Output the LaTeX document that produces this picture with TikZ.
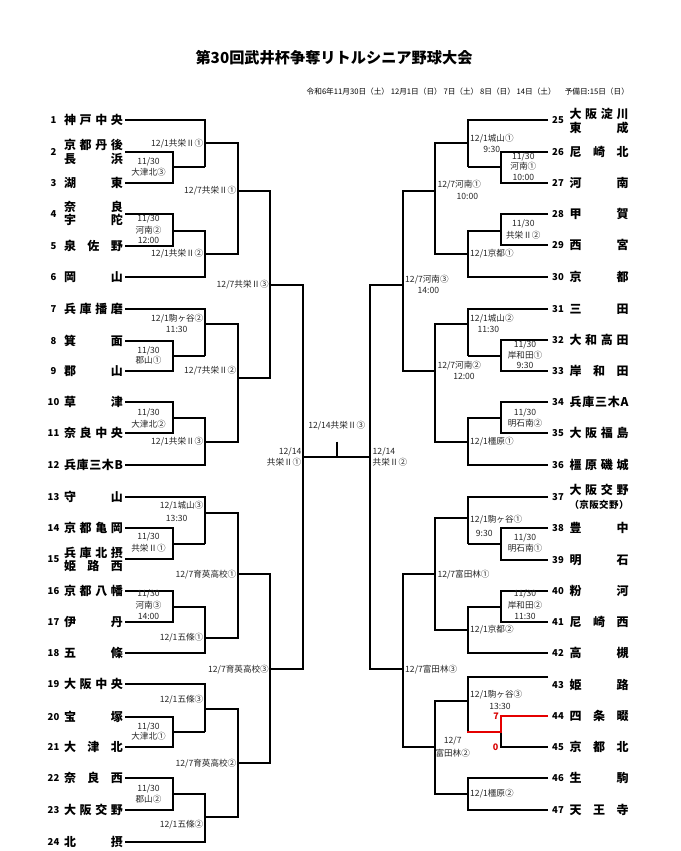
\documentclass[tikz,border=0pt]{standalone}
\usepackage{fontspec}
\setmainfont{Noto Sans CJK JP}
\begin{document}
\begin{tikzpicture}[x=1pt,y=-1pt,
  br/.style={line width=1.7pt,line join=miter,black},
  win/.style={line width=1.9pt,line join=miter,red!90!black},
  tn/.style={inner sep=0pt,font=\fontsize{12}{13.4}\selectfont\bfseries,align=center},
  nm/.style={inner sep=0pt,font=\fontsize{9.5}{10}\selectfont\bfseries},
  lb/.style={inner sep=0pt,font=\fontsize{8.6}{9.6}\selectfont,text=black!85},
  sc/.style={inner sep=0pt,font=\fontsize{9}{10}\selectfont\bfseries,text=red!85!black}]
\fill[white] (0,0) rectangle (680,851);
\useasboundingbox (0,0) rectangle (680,851);
\newcommand\W[1]{\makebox[59pt]{#1}}
% title
\node[inner sep=0pt,font=\fontsize{15.2}{16}\selectfont\bfseries] (title) at (334,57.3) {第30回武井杯争奪リトルシニア野球大会};
\node[inner sep=0pt,font=\fontsize{7.65}{8}\selectfont,anchor=west] (sub) at (306.5,91.7) {令和6年11月30日（土） 12月1日（日） 7日（土） 8日（日） 14日（土）\hspace{9pt}予備日:15日（日）};
% ---------- left teams ----------
\foreach \n/\y in {1/120,2/151.7,3/183.3,4/214.3,5/245.7,6/276.7,7/309,8/340.7,9/371,10/402.3,11/432.7,12/465,13/497,14/528.3,15/559,16/591,17/621.7,18/653.3,19/684.3,20/716.7,21/747.3,22/778.3,23/810,24/841.7}
  \node[nm] (n\n) at (53.5,\y) {\n};
\node[tn] (t1) at (93.5,120) {\W{神\hfill 戸\hfill 中\hfill 央}};
\node[tn] (t2) at (93.5,152) {\W{京\hfill 都\hfill 丹\hfill 後}\\\W{長\hfill 浜}};
\node[tn] (t3) at (93.5,183.3) {\W{湖\hfill 東}};
\node[tn] (t4) at (93.5,213.3) {\W{奈\hfill 良}\\\W{宇\hfill 陀}};
\node[tn] (t5) at (93.5,245.7) {\W{泉\hfill 佐\hfill 野}};
\node[tn] (t6) at (93.5,276.7) {\W{岡\hfill 山}};
\node[tn] (t7) at (93.5,309) {\W{兵\hfill 庫\hfill 播\hfill 磨}};
\node[tn] (t8) at (93.5,340.7) {\W{箕\hfill 面}};
\node[tn] (t9) at (93.5,371) {\W{郡\hfill 山}};
\node[tn] (t10) at (93.5,402.3) {\W{草\hfill 津}};
\node[tn] (t11) at (93.5,432.7) {\W{奈\hfill 良\hfill 中\hfill 央}};
\node[tn] (t12) at (93.5,465) {\W{兵\hfill 庫\hfill 三\hfill 木\hfill B}};
\node[tn] (t13) at (93.5,497) {\W{守\hfill 山}};
\node[tn] (t14) at (93.5,528.3) {\W{京\hfill 都\hfill 亀\hfill 岡}};
\node[tn] (t15) at (93.5,559.5) {\W{兵\hfill 庫\hfill 北\hfill 摂}\\\W{姫\hfill 路\hfill 西}};
\node[tn] (t16) at (93.5,591) {\W{京\hfill 都\hfill 八\hfill 幡}};
\node[tn] (t17) at (93.5,621.7) {\W{伊\hfill 丹}};
\node[tn] (t18) at (93.5,653.3) {\W{五\hfill 條}};
\node[tn] (t19) at (93.5,684.3) {\W{大\hfill 阪\hfill 中\hfill 央}};
\node[tn] (t20) at (93.5,716.7) {\W{宝\hfill 塚}};
\node[tn] (t21) at (93.5,747.3) {\W{大\hfill 津\hfill 北}};
\node[tn] (t22) at (93.5,778.3) {\W{奈\hfill 良\hfill 西}};
\node[tn] (t23) at (93.5,810) {\W{大\hfill 阪\hfill 交\hfill 野}};
\node[tn] (t24) at (93.5,841.7) {\W{北\hfill 摂}};
% ---------- right teams ----------
\foreach \n/\y in {25/120,26/151.7,27/183.3,28/214.3,29/245,30/276.7,31/309,32/340,33/371,34/402.3,35/433.3,36/465,37/496.7,38/528.3,39/560,40/591,41/621.7,42/653.3,43/685,44/715.7,45/747.3,46/778.3,47/810}
  \node[nm] (n\n) at (558,\y) {\n};
\node[tn] (t25) at (599,121) {\W{大\hfill 阪\hfill 淀\hfill 川}\\\W{東\hfill 成}};
\node[tn] (t26) at (599,151.7) {\W{尼\hfill 崎\hfill 北}};
\node[tn] (t27) at (599,183.3) {\W{河\hfill 南}};
\node[tn] (t28) at (599,214.3) {\W{甲\hfill 賀}};
\node[tn] (t29) at (599,245) {\W{西\hfill 宮}};
\node[tn] (t30) at (599,276.7) {\W{京\hfill 都}};
\node[tn] (t31) at (599,309) {\W{三\hfill 田}};
\node[tn] (t32) at (599,340) {\W{大\hfill 和\hfill 高\hfill 田}};
\node[tn] (t33) at (599,371) {\W{岸\hfill 和\hfill 田}};
\node[tn] (t34) at (599,402.3) {\W{兵\hfill 庫\hfill 三\hfill 木\hfill A}};
\node[tn] (t35) at (599,433.3) {\W{大\hfill 阪\hfill 福\hfill 島}};
\node[tn] (t36) at (599,465) {\W{橿\hfill 原\hfill 磯\hfill 城}};
\node[tn] (t37) at (599,497) {\W{大\hfill 阪\hfill 交\hfill 野}\\{\fontsize{9.5}{10}\selectfont\W{（\hfill 京\hfill 阪\hfill 交\hfill 野\hfill ）}}};
\node[tn] (t38) at (599,528.3) {\W{豊\hfill 中}};
\node[tn] (t39) at (599,560) {\W{明\hfill 石}};
\node[tn] (t40) at (599,591) {\W{粉\hfill 河}};
\node[tn] (t41) at (599,621.7) {\W{尼\hfill 崎\hfill 西}};
\node[tn] (t42) at (599,653.3) {\W{高\hfill 槻}};
\node[tn] (t43) at (599,685) {\W{姫\hfill 路}};
\node[tn] (t44) at (599,715.7) {\W{四\hfill 条\hfill 畷}};
\node[tn] (t45) at (599,747.3) {\W{京\hfill 都\hfill 北}};
\node[tn] (t46) at (599,778.3) {\W{生\hfill 駒}};
\node[tn] (t47) at (599,810) {\W{天\hfill 王\hfill 寺}};
% ---------- left bracket ----------
\draw[br] (125,120) -| (205,167.3);
\draw[br] (125,151.7) -| (173,183.3) -- (125,183.3);
\draw[br] (173,167.3) -- (205,167.3);
\draw[br] (205,143.3) -| (238,254) -- (205,254);
\draw[br] (125,214.3) -| (173,245.7) -- (125,245.7);
\draw[br] (173,230.7) -| (205,276.7) -- (125,276.7);
\draw[br] (238,190.7) -| (270,378.3) -- (238,378.3);
\draw[br] (125,309) -| (205,355.7);
\draw[br] (125,340.7) -| (173,371) -- (125,371);
\draw[br] (173,355.7) -- (205,355.7);
\draw[br] (205,324) -| (238,441.7) -- (205,441.7);
\draw[br] (125,402.3) -| (173,432.7) -- (125,432.7);
\draw[br] (173,418.3) -| (205,465) -- (125,465);
\draw[br] (270,285) -| (302.7,669.3) -- (270,669.3);
\draw[br] (125,497) -| (205,544.3);
\draw[br] (125,528.3) -| (173,559) -- (125,559);
\draw[br] (173,544.3) -- (205,544.3);
\draw[br] (205,513.3) -| (238,638.3) -- (205,638.3);
\draw[br] (125,591) -| (173,621.7) -- (125,621.7);
\draw[br] (173,606.7) -| (205,653.3) -- (125,653.3);
\draw[br] (238,574.3) -| (270,762.7) -- (238,762.7);
\draw[br] (125,684.3) -| (205,731.7);
\draw[br] (125,716.7) -| (173,747.3) -- (125,747.3);
\draw[br] (173,731.7) -- (205,731.7);
\draw[br] (205,709) -| (238,817.3) -- (205,817.3);
\draw[br] (125,778.3) -| (173,810) -- (125,810);
\draw[br] (173,794) -| (205,841.7) -- (125,841.7);
% ---------- centre ----------
\draw[br] (302.7,457.3) -- (370,457.3);
\draw[br] (336.7,441.7) -- (336.7,457.3);
% ---------- right bracket ----------
\draw[br] (548,120) -| (468,167.3);
\draw[br] (548,151.7) -| (500.7,183.3) -- (548,183.3);
\draw[br] (500.7,167.3) -- (468,167.3);
\draw[br] (468,143.3) -| (435,254) -- (468,254);
\draw[br] (548,214.3) -| (500.7,245) -- (548,245);
\draw[br] (500.7,230.7) -| (468,276.7) -- (548,276.7);
\draw[br] (435,190.7) -| (402.7,371) -- (435,371);
\draw[br] (548,309) -| (468,355.7);
\draw[br] (548,340) -| (500.7,371) -- (548,371);
\draw[br] (500.7,355.7) -- (468,355.7);
\draw[br] (468,324) -| (435,441.7) -- (468,441.7);
\draw[br] (548,402.3) -| (500.7,433.3) -- (548,433.3);
\draw[br] (500.7,418.3) -| (468,465) -- (548,465);
\draw[br] (402.7,285) -| (370,669.3) -- (402.7,669.3);
\draw[br] (548,496.7) -| (468,544.3);
\draw[br] (548,528.3) -| (500.7,560) -- (548,560);
\draw[br] (500.7,544.3) -- (468,544.3);
\draw[br] (468,518.3) -| (435,630) -- (468,630);
\draw[br] (548,591) -| (500.7,621.7) -- (548,621.7);
\draw[br] (500.7,606.7) -| (468,653.3) -- (548,653.3);
\draw[br] (435,574.3) -| (402.7,747.3) -- (435,747.3);
\draw[br] (548,676.7) -| (468,731.7);
\draw[br] (500.7,731.7) |- (548,747.3);
\draw[br] (468,700.7) -| (435,794) -- (468,794);
\draw[br] (548,778.3) -| (468,810) -- (548,810);
\draw[win] (548,715.7) -| (500.7,731.7) -- (467.2,731.7);
\node[sc] (s44) at (496,716) {7};
\node[sc] (s45) at (495.5,747.3) {0};
% ---------- left labels ----------
\node[lb,anchor=east] (a1) at (203.5,144) {12/1共栄Ⅱ①};
\node[lb] (a2) at (148.5,161.7) {11/30};
\node[lb] (a3) at (148.5,172.7) {大津北③};
\node[lb,anchor=east] (a4) at (236.5,190.7) {12/7共栄Ⅱ①};
\node[lb] (a5) at (148.5,219) {11/30};
\node[lb] (a6) at (148.5,230) {河南②};
\node[lb] (a7) at (148.5,240.7) {12:00};
\node[lb,anchor=east] (a8) at (203.5,254) {12/1共栄Ⅱ②};
\node[lb,anchor=east] (a9) at (269,285) {12/7共栄Ⅱ③};
\node[lb,anchor=east] (a10) at (203.5,319) {12/1駒ヶ谷②};
\node[lb] (a11) at (176.7,329.3) {11:30};
\node[lb] (a12) at (148.5,350.7) {11/30};
\node[lb] (a13) at (148.5,360.5) {郡山①};
\node[lb,anchor=east] (a14) at (236.5,371) {12/7共栄Ⅱ②};
\node[lb] (a15) at (148.5,413.3) {11/30};
\node[lb] (a16) at (148.5,424) {大津北②};
\node[lb,anchor=east] (a17) at (203.5,441.7) {12/1共栄Ⅱ③};
\node[lb,anchor=east] (a18) at (203.5,506) {12/1城山③};
\node[lb] (a19) at (176.7,518.3) {13:30};
\node[lb] (a20) at (148.5,537.3) {11/30};
\node[lb] (a21) at (148.5,548.3) {共栄Ⅱ①};
\node[lb,anchor=east] (a22) at (236.5,575) {12/7育英高校①};
\node[lb] (a23) at (148.5,594) {11/30};
\node[lb] (a24) at (148.5,605) {河南③};
\node[lb] (a25) at (148.5,616) {14:00};
\node[lb,anchor=east] (a26) at (203.5,637.7) {12/1五條①};
\node[lb,anchor=east] (a27) at (269,669.3) {12/7育英高校③};
\node[lb,anchor=east] (a28) at (203.5,700) {12/1五條③};
\node[lb] (a29) at (148.5,726.7) {11/30};
\node[lb] (a30) at (148.5,736.7) {大津北①};
\node[lb,anchor=east] (a31) at (236.5,763.3) {12/7育英高校②};
\node[lb] (a32) at (148.5,789) {11/30};
\node[lb] (a33) at (148.5,799.3) {郡山②};
\node[lb,anchor=east] (a34) at (203.5,825) {12/1五條②};
% ---------- centre labels ----------
\node[lb] (c1) at (336.7,425.7) {12/14共栄Ⅱ③};
\node[lb,anchor=east] (c2) at (301.5,451.7) {12/14};
\node[lb,anchor=east] (c3) at (301.5,462.3) {共栄Ⅱ①};
\node[lb,anchor=west] (c4) at (372.5,451.7) {12/14};
\node[lb,anchor=west] (c5) at (372.5,462.3) {共栄Ⅱ②};
% ---------- right labels ----------
\node[lb,anchor=west] (b1) at (470,138.3) {12/1城山①};
\node[lb] (b2) at (491.7,149.3) {9:30};
\node[lb] (b3) at (523.3,157.3) {11/30};
\node[lb] (b4) at (523.3,166.7) {河南①};
\node[lb] (b5) at (523.3,177.7) {10:00};
\node[lb,anchor=west] (b6) at (437.3,185) {12/7河南①};
\node[lb] (b7) at (467.3,196.7) {10:00};
\node[lb] (b8) at (523.3,224.3) {11/30};
\node[lb] (b9) at (523.3,235) {共栄Ⅱ②};
\node[lb,anchor=west] (b10) at (470,254) {12/1京都①};
\node[lb,anchor=west] (b11) at (405,280) {12/7河南③};
\node[lb] (b12) at (428.3,290.7) {14:00};
\node[lb,anchor=west] (b13) at (470,319) {12/1城山②};
\node[lb] (b14) at (488.3,329.3) {11:30};
\node[lb] (b15) at (525,345) {11/30};
\node[lb] (b16) at (525,355) {岸和田①};
\node[lb] (b17) at (525,365.7) {9:30};
\node[lb,anchor=west] (b18) at (437.3,365.7) {12/7河南②};
\node[lb] (b19) at (464,376) {12:00};
\node[lb] (b20) at (525,413.3) {11/30};
\node[lb] (b21) at (525,423.3) {明石南②};
\node[lb,anchor=west] (b22) at (470,441.7) {12/1橿原①};
\node[lb,anchor=west] (b23) at (470,519.3) {12/1駒ヶ谷①};
\node[lb] (b24) at (484.3,533.3) {9:30};
\node[lb] (b25) at (525,537.7) {11/30};
\node[lb] (b26) at (525,548.3) {明石南①};
\node[lb,anchor=west] (b27) at (437.3,574.3) {12/7富田林①};
\node[lb] (b28) at (525,594.3) {11/30};
\node[lb] (b29) at (525,605.7) {岸和田②};
\node[lb] (b30) at (525,616.7) {11:30};
\node[lb,anchor=west] (b31) at (470,630) {12/1京都②};
\node[lb,anchor=west] (b32) at (405,669.3) {12/7富田林③};
\node[lb,anchor=west] (b33) at (470,694.3) {12/1駒ヶ谷③};
\node[lb] (b34) at (500,706.7) {13:30};
\node[lb] (b35) at (452.7,741) {12/7};
\node[lb] (b36) at (452.7,753.3) {富田林②};
\node[lb,anchor=west] (b37) at (470,793.3) {12/1橿原②};
\end{tikzpicture}
\end{document}
